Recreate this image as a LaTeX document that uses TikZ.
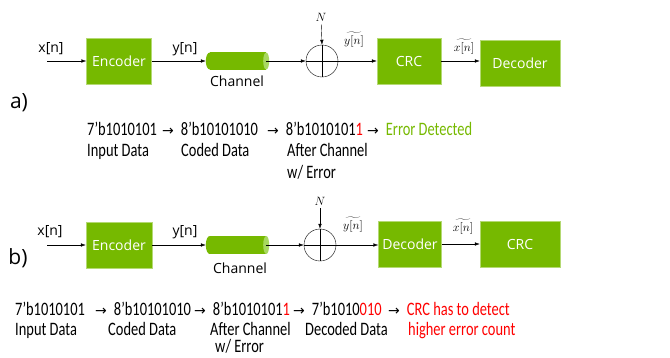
\documentclass[tikz,border=0pt]{standalone}
\usepackage{fontspec}
\usetikzlibrary{arrows.meta}
\setmainfont{Open Sans}
\newfontfamily\datafont[FakeStretch=0.76]{Carlito}
\newfontfamily\arrowfont{DejaVu Sans}
\definecolor{nvgreen}{HTML}{76B900}
\definecolor{chanend}{HTML}{A8D860}
\newcommand{\rarr}{{\arrowfont\fontsize{14}{14}\selectfont →}\hspace{7pt}}

\begin{document}
\begin{tikzpicture}[x=1pt,y=-1pt,
    block/.style={fill=nvgreen,draw=nvgreen!55!white,text=white,inner sep=0pt,
      minimum height=46pt,font=\fontsize{14}{16}\selectfont},
    pipe/.style={minimum width=56pt,minimum height=17pt,inner sep=0pt},
    adder/.style={circle,draw,minimum size=32pt,inner sep=0pt},
    sig/.style={-{Latex[length=5pt,width=3.5pt]}},
    lbl/.style={inner sep=0pt,font=\fontsize{14}{16}\selectfont},
    mlbl/.style={inner sep=0pt,font=\fontsize{13}{15}\selectfont},
    data/.style={anchor=base west,inner sep=0pt,font=\datafont\fontsize{19}{21}\selectfont},
    tag/.style={inner sep=0pt,font=\fontsize{21}{23}\selectfont}]
  \useasboundingbox (0,0) rectangle (670,357);

  % a) CRC before the decoder
  \coordinate (inA) at (47,61);
  \node[block,minimum width=65pt] (encA) at (119,61) {Encoder};
  \node[pipe] (chanA) at (238,61) {};
  \fill[nvgreen] (chanA.west) ellipse [x radius=4, y radius=8.5];
  \fill[nvgreen] (chanA.north west) rectangle (chanA.south east);
  \fill[chanend] (chanA.east) ellipse [x radius=3, y radius=8.5];
  \node[adder] (sumA) at (322,61) {};
  \node[mlbl] (noiseA) at (321,17) {$N$};
  \node[block,minimum width=64pt] (crcA) at (409,61) {CRC};
  \node[block,minimum width=80pt] (decA) at (520,63) {Decoder};

  \draw[sig] (inA) -- (encA);
  \draw[sig] (encA.east) -- ([xshift=-4pt]chanA.west);
  \draw[sig] (chanA.east) -- (sumA.west);
  \draw[sig,shorten <=3pt] (noiseA) -- (sumA.north);
  \draw (sumA.north) -- (sumA.south) (sumA.west) -- (sumA.east);
  \draw[sig] (sumA.east) -- (crcA.west);
  \draw[sig] (crcA.east) -- (crcA.east -| decA.west);

  \node[lbl] (xA) at (51,49) {x[n]};
  \node[lbl] (yA) at (185,49) {y[n]};
  \node[lbl] (chA) at (237,81) {Channel};
  \node[mlbl] (ytA) at (354,40) {$\widetilde{y[n]}$};
  \node[mlbl] (xtA) at (464,47) {$\widetilde{x[n]}$};
  \node[tag] (tagA) at (19,103) {a)};

  \node[data] (a1) at (87,135) {7’b1010101};
  \node[data] (a2) at (162,135) {\rarr 8’b10101010};
  \node[data] (a3) at (267,135) {\rarr 8’b1010101\textcolor{red}{1}};
  \node[data] (a4) at (367,135) {\rarr\textcolor{nvgreen}{Error Detected}};
  \node[data] (a5) at (87,156) {Input Data};
  \node[data] (a6) at (181,156) {Coded Data};
  \node[data] (a7) at (287,156) {After Channel};
  \node[data] (a8) at (287,178) {w/ Error};

  % b) CRC after the decoder
  \coordinate (inB) at (47,245);
  \node[block,minimum width=66pt] (encB) at (119,245) {Encoder};
  \node[pipe] (chanB) at (238,245) {};
  \fill[nvgreen] (chanB.west) ellipse [x radius=4, y radius=9];
  \fill[nvgreen] (chanB.north west) rectangle (chanB.south east);
  \fill[chanend] (chanB.east) ellipse [x radius=3, y radius=9];
  \node[adder] (sumB) at (320,245) {};
  \node[mlbl] (noiseB) at (320,201) {$N$};
  \node[block,minimum width=63pt] (decB) at (410,244) {Decoder};
  \node[block,minimum width=80pt] (crcB) at (520,244) {CRC};

  \draw[sig] (inB) -- (encB);
  \draw[sig] (encB.east) -- ([xshift=-4pt]chanB.west);
  \draw[sig] (chanB.east) -- (sumB.west);
  \draw[sig,shorten <=3pt] (noiseB) -- (sumB.north);
  \draw (sumB.north) -- (sumB.south) (sumB.west) -- (sumB.east);
  \draw[sig] (sumB.east) -- (sumB.east -| decB.west);
  \draw[sig] (decB.east) -- (decB.east -| crcB.west);

  \node[lbl] (xB) at (50,232) {x[n]};
  \node[lbl] (yB) at (185,232) {y[n]};
  \node[lbl] (chB) at (240,268) {Channel};
  \node[mlbl] (ytB) at (353,225) {$\widetilde{y[n]}$};
  \node[mlbl] (xtB) at (463,227) {$\widetilde{x[n]}$};
  \node[tag] (tagB) at (18,258) {b)};

  \node[data] (b1) at (15,315) {7’b1010101};
  \node[data] (b2) at (95,315) {\rarr 8’b10101010};
  \node[data] (b3) at (194,315) {\rarr 8’b1010101\textcolor{red}{1}};
  \node[data] (b4) at (293,315) {\rarr 7’b1010\textcolor{red}{010}};
  \node[data] (b5) at (388,315) {\rarr\textcolor{red}{CRC has to detect}};
  \node[data] (b6) at (15,335) {Input Data};
  \node[data] (b7) at (108,335) {Coded Data};
  \node[data] (b8) at (210,335) {After Channel};
  \node[data] (b9) at (305,335) {Decoded Data};
  \node[data,text=red] (b10) at (408,335) {higher error count};
  \node[data] (b11) at (215,352) {w/ Error};
\end{tikzpicture}
\end{document}
